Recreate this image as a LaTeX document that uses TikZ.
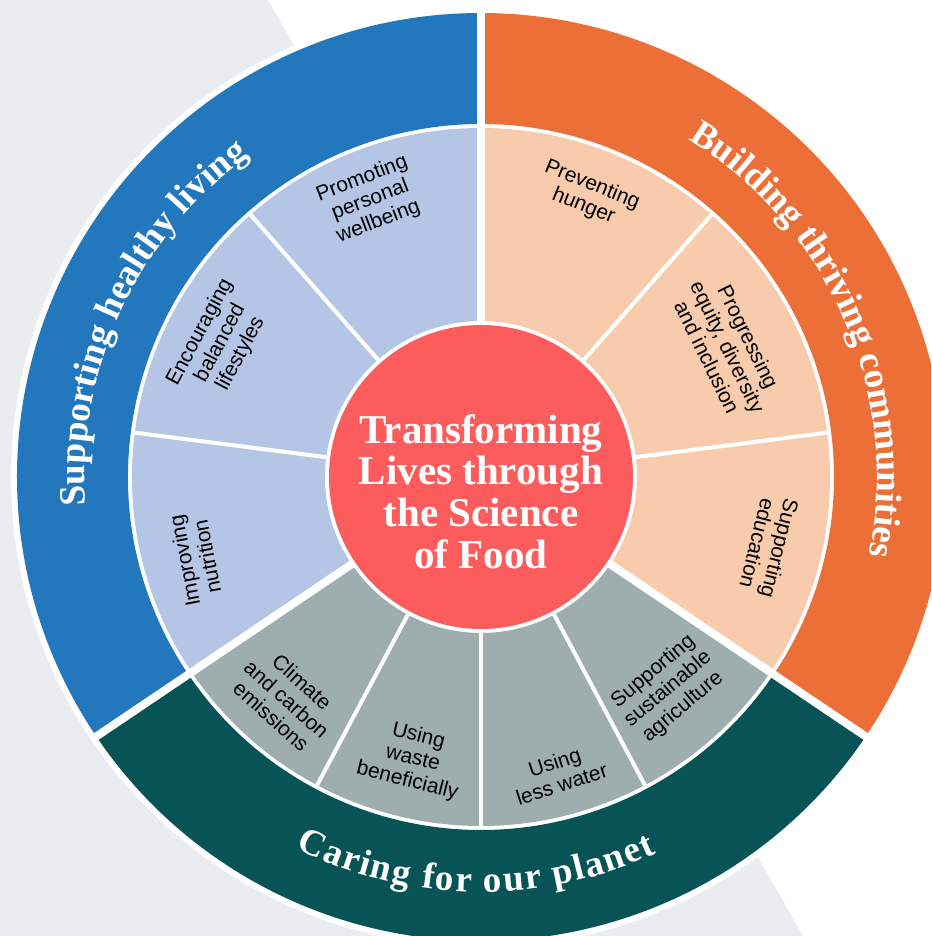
\documentclass[tikz,border=0pt]{standalone}
\usepackage{fontspec}
\setmainfont{Liberation Sans}
\newfontfamily\serifhead{Liberation Serif}
\usetikzlibrary{decorations.text}

\definecolor{healthblue}{HTML}{2377BD}
\definecolor{healthlight}{HTML}{B4C5E6}
\definecolor{commorange}{HTML}{EB6F37}
\definecolor{commlight}{HTML}{F8CBAC}
\definecolor{planetteal}{HTML}{075356}
\definecolor{planetlight}{HTML}{9EADAE}
\definecolor{corered}{HTML}{FD5C5C}
\definecolor{bggray}{HTML}{E9EDF0}

\begin{document}
\begin{tikzpicture}[x=1pt, y=1pt,
  sub/.style={align=center, inner sep=0pt, font=\fontsize{21}{23}\selectfont},
  ringtext/.style={decorate, decoration={text along path, text color=white, text align=center}},
  gap/.style={white, line width=8pt},
  subgap/.style={white, line width=4pt}]

% 画布
\useasboundingbox (-481,-459) rectangle (450,477);
\clip (-481,-459) rectangle (450,477);
\fill[white] (-481,-459) rectangle (450,477);
\fill[bggray] (-481,477) -- (-213,477) -- (322,-459) -- (-481,-459) -- cycle;
\fill[white] (0,0) circle[radius=470pt];

% 外环
\fill[healthblue] (90:464pt) arc[start angle=90, end angle=214, radius=464pt] -- (214:353pt) arc[start angle=214, end angle=90, radius=353pt] -- cycle;
\fill[commorange] (-34:464pt) arc[start angle=-34, end angle=90, radius=464pt] -- (90:353pt) arc[start angle=90, end angle=-34, radius=353pt] -- cycle;
\fill[planetteal] (214:464pt) arc[start angle=214, end angle=326, radius=464pt] -- (326:353pt) arc[start angle=326, end angle=214, radius=353pt] -- cycle;

% 内环
\fill[healthlight] (90:349pt) arc[start angle=90, end angle=214, radius=349pt] -- (214:156pt) arc[start angle=214, end angle=90, radius=156pt] -- cycle;
\fill[commlight] (-34:349pt) arc[start angle=-34, end angle=90, radius=349pt] -- (90:156pt) arc[start angle=90, end angle=-34, radius=156pt] -- cycle;
\fill[planetlight] (214:349pt) arc[start angle=214, end angle=326, radius=349pt] -- (326:156pt) arc[start angle=326, end angle=214, radius=156pt] -- cycle;

% 分隔线
\foreach \a in {90,214,326}
  \draw[gap] (0,0) -- (\a:468pt);
\foreach \a in {131.3,172.7,48.7,7.3,242,270,298}
  \draw[subgap] (\a:150pt) -- (\a:351pt);

% 中心
\fill[corered] (0,0) circle[radius=152pt];
\node[align=center, inner sep=0pt, text=white, font=\serifhead\bfseries\fontsize{41}{41.8}\selectfont] (core) at (0,-14.5) {Transforming\\Lives through\\the Science\\of Food};

% 外环文字
\path[ringtext, decoration={text={|\serifhead\bfseries\fontsize{37}{40}\selectfont|Supporting healthy living}}]
  (200:396pt) arc[start angle=200, end angle=110, radius=396pt];
\path[ringtext, decoration={text={|\serifhead\bfseries\fontsize{37}{40}\selectfont|Building thriving communities}}]
  (70:396pt) arc[start angle=70, end angle=-23, radius=396pt];
\path[ringtext, decoration={text align={fit to path}, text={|\serifhead\bfseries\fontsize{37}{40}\selectfont|Caring for our planet}}]
  (243.5:415pt) arc[start angle=243.5, end angle=295, radius=415pt];

% 内环文字
\node[sub, rotate=21] (wellbeing) at (111.8:298pt) {Promoting\\personal\\wellbeing};
\node[sub, rotate=62] (lifestyles) at (152.8:293pt) {Encouraging\\balanced\\lifestyles};
\node[sub, rotate=101] (nutrition) at (196:297pt) {Improving\\nutrition};
\node[sub, rotate=-22] (hunger) at (69.2:301pt) {Preventing\\hunger};
\node[sub, rotate=-64] (equity) at (27.8:279pt) {Progressing\\equity, diversity\\and inclusion};
\node[sub, rotate=-104] (education) at (-13.5:296pt) {Supporting\\education};
\node[sub, rotate=-42] (climate) at (228.8:295pt) {Climate\\and carbon\\emissions};
\node[sub, rotate=-14] (waste) at (256.4:290pt) {Using\\waste\\beneficially};
\node[sub, rotate=18] (water) at (284.6:306pt) {Using\\less water};
\node[sub, rotate=40] (agriculture) at (311.4:283pt) {Supporting\\sustainable\\agriculture};
\end{tikzpicture}
\end{document}
